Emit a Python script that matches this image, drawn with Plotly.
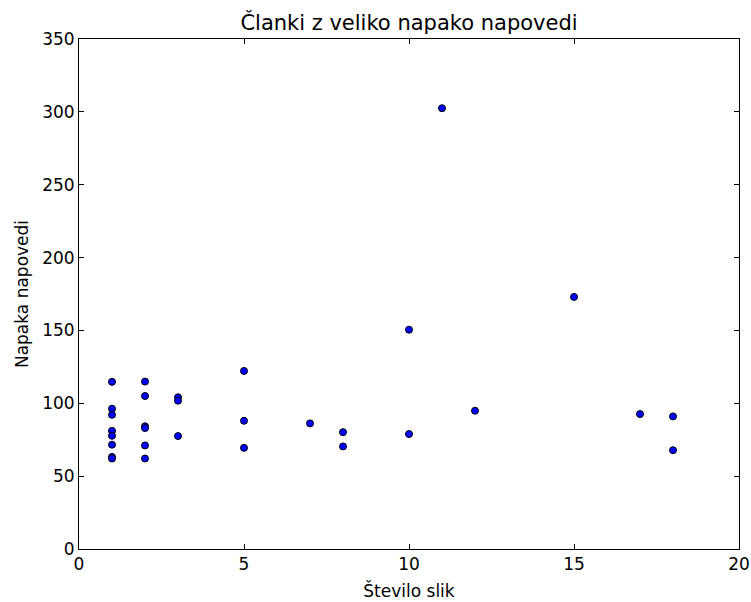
import plotly.graph_objects as go

x_vals = [1, 1, 1, 1, 1, 1, 1, 1,
          2, 2, 2, 2, 2, 2,
          3, 3, 3,
          5, 5, 5,
          7,
          8, 8,
          10, 10,
          11,
          12,
          15,
          17,
          18, 18]
y_vals = [114.7, 96.3, 92.1, 81.1, 77.7, 71.6, 63.2, 62.1,
          114.9, 105.0, 84.2, 83.0, 71.1, 62.1,
          104.1, 101.8, 77.5,
          122.2, 88.0, 69.4,
          86.2,
          80.2, 70.4,
          150.5, 78.9,
          302.5,
          94.9,
          173.0,
          92.6,
          91.0, 67.8]

title_text = "Članki z veliko napako napovedi"
x_title = "Število slik"
y_title = "Napaka napovedi"
x_ticks = [0, 5, 10, 15, 20]
y_ticks = [0, 50, 100, 150, 200, 250, 300, 350]

font_family = "DejaVu Sans"

fig = go.Figure(
    go.Scatter(
        x=x_vals, y=y_vals, mode="markers",
        marker=dict(color="#0000ff", size=7, line=dict(color="black", width=1)),
        showlegend=False,
    )
)

axis_common = dict(
    showline=True, linecolor="black", linewidth=1, mirror="ticks",
    ticks="inside", ticklen=5, tickcolor="black", tickwidth=1,
    showgrid=False, zeroline=False, automargin=False,
    tickfont=dict(family=font_family, size=17, color="black"),
)

fig.update_layout(
    width=751, height=602,
    paper_bgcolor="white", plot_bgcolor="white",
    margin=dict(l=79, r=12, t=39, b=53, autoexpand=False),
    font=dict(family=font_family, size=17, color="black"),
    title=dict(text=title_text, x=0.5446, xanchor="center", yref="container",
               y=0.963, yanchor="middle",
               font=dict(family=font_family, size=21, color="black")),
    xaxis=dict(range=[0, 20], tickvals=x_ticks, ticktext=[str(v) for v in x_ticks],
               title=dict(text=x_title, font=dict(family=font_family, size=17), standoff=11),
               **axis_common),
    yaxis=dict(range=[0, 350], tickvals=y_ticks, ticktext=[str(v) for v in y_ticks],
               title=dict(text=y_title, font=dict(family=font_family, size=17), standoff=9),
               **axis_common),
)

fig.write_html("out.html",
               config={"displayModeBar": False},
               post_script="document.body.style.margin='0';document.body.style.padding='0';")
